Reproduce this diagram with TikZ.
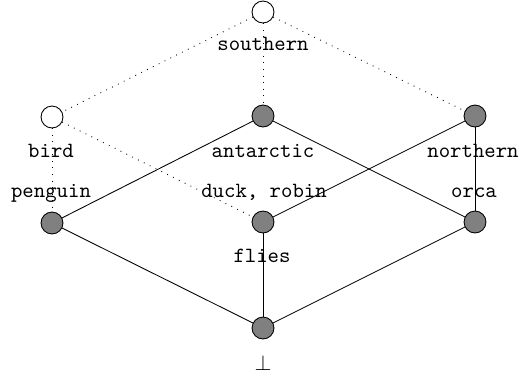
\documentclass[tikz,border=0pt]{standalone}
\begin{document}
\begin{tikzpicture}[x=0.4605pt,y=-0.4605pt,
  vert/.style={circle,draw=black,line width=0.4pt,inner sep=0pt,minimum size=10.1pt},
  emptyv/.style={vert,fill=white},
  fullv/.style={vert,fill=gray},
  lbl/.style={font=\ttfamily,inner sep=0pt,anchor=base},
  solidedge/.style={line width=0.4pt},
  dotedge/.style={line width=0.4pt,dash pattern=on 0.4pt off 2.6pt}]
\useasboundingbox (0,0) rectangle (522,377);
% vertices
\node[emptyv] (top) at (263,12) {};
\node[emptyv] (bird) at (52,117) {};
\node[fullv] (ant) at (263,116) {};
\node[fullv] (nor) at (475,116) {};
\node[fullv] (pen) at (52,223) {};
\node[fullv] (fli) at (263,222) {};
\node[fullv] (orc) at (475,222) {};
\node[fullv] (bot) at (263,328) {};
% labels
\node[lbl] (lsouth) at (263,50) {southern};
\node[lbl] (lbird) at (51,157) {bird};
\node[lbl] (lant) at (263,157) {antarctic};
\node[lbl] (lnor) at (473,157) {northern};
\node[lbl] (lpen) at (51,197) {penguin};
\node[lbl] (lduck) at (264,197) {duck, robin};
\node[lbl] (lorc) at (474,197) {orca};
\node[lbl] (lfli) at (262,262) {flies};
\node[lbl] (lbot) at (263,370) {$\bot$};
% dotted edges
\draw[dotedge] (top) -- (bird);
\draw[dotedge] (top) -- (ant);
\draw[dotedge] (top) -- (nor);
\draw[dotedge] (bird) -- (pen);
\draw[dotedge] (bird) -- (fli);
% solid edges
\draw[solidedge] (pen) -- (ant);
\draw[solidedge] (ant) -- (orc);
\draw[solidedge] (nor) -- (fli);
\draw[solidedge] (nor) -- (orc);
\draw[solidedge] (pen) -- (bot);
\draw[solidedge] (fli) -- (bot);
\draw[solidedge] (orc) -- (bot);
\end{tikzpicture}
\end{document}
